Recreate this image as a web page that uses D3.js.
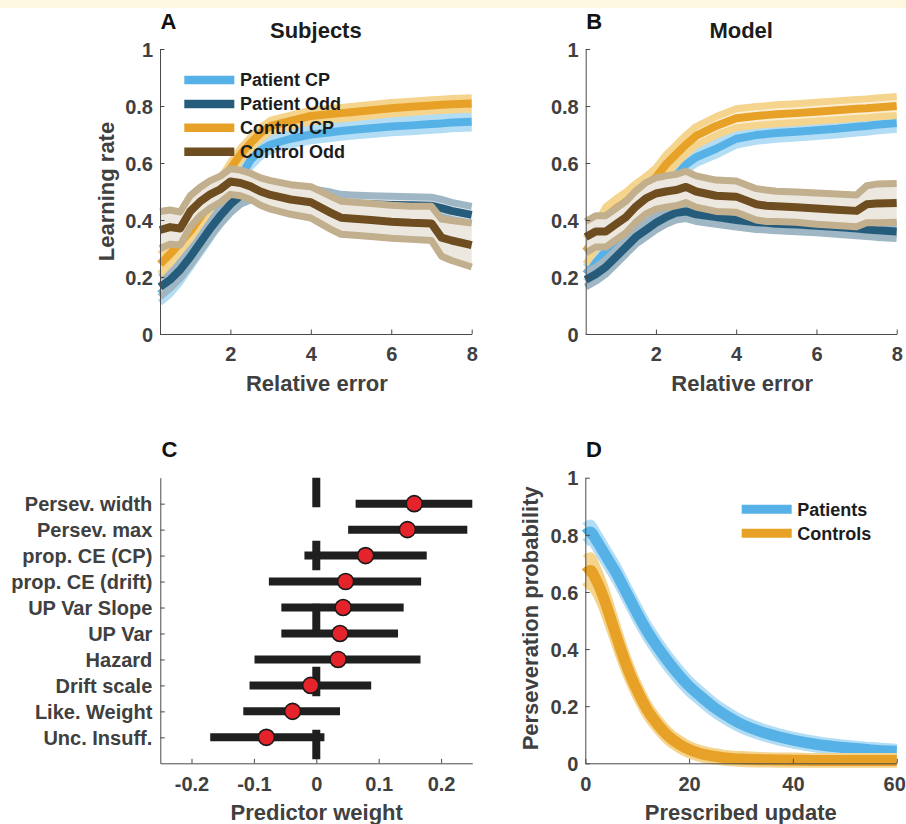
<!DOCTYPE html>
<html><head><meta charset="utf-8">
<script src="https://cdn.jsdelivr.net/npm/d3@7"></script>
<style>
body{margin:0;background:#fff}
svg{display:block}
text{font-family:"Liberation Sans",Arial,Helvetica,sans-serif;font-weight:bold}
</style>
</head><body>
<svg id="c" width="906" height="824"></svg>
<script>
// ---------- DATA ----------
const xRel = [0.25,0.5,0.75,1,1.25,1.5,1.75,2,2.25,2.5,2.75,3,3.5,4,4.5,4.75,5,5.5,6,6.5,7,7.25,7.5,8];
const yTicks01 = [0,0.2,0.4,0.6,0.8,1];
const xTicksRel = [2,4,6,8];

// Panel A: Subjects
const subjPatientCP     = [0.14,0.17,0.21,0.26,0.31,0.36,0.42,0.48,0.55,0.61,0.645,0.665,0.685,0.70,0.708,0.712,0.716,0.722,0.728,0.732,0.737,0.739,0.742,0.745];
const subjPatientCPSem  = [0.03,0.03,0.028,0.027,0.026,0.025,0.025,0.025,0.024,0.023,0.022,0.022,0.022,0.022,0.022,0.022,0.022,0.022,0.022,0.022,0.022,0.022,0.022,0.022];
const subjPatientOdd    = [0.165,0.19,0.225,0.27,0.32,0.37,0.415,0.455,0.485,0.5,0.505,0.5,0.49,0.48,0.468,0.46,0.458,0.455,0.453,0.452,0.45,0.442,0.432,0.418];
const subjPatientOddSem = [0.035,0.03,0.03,0.03,0.03,0.03,0.03,0.03,0.03,0.03,0.03,0.03,0.03,0.03,0.03,0.03,0.03,0.03,0.03,0.03,0.03,0.03,0.03,0.03];
const subjControlCP     = [0.245,0.28,0.32,0.36,0.41,0.46,0.52,0.58,0.63,0.67,0.705,0.73,0.748,0.765,0.772,0.775,0.778,0.785,0.792,0.797,0.802,0.804,0.806,0.809];
const subjControlCPSem  = [0.035,0.033,0.03,0.027,0.025,0.024,0.023,0.022,0.021,0.02,0.02,0.02,0.02,0.02,0.02,0.02,0.02,0.02,0.02,0.02,0.02,0.02,0.02,0.02];
const subjControlOdd    = [0.365,0.375,0.37,0.43,0.465,0.49,0.508,0.535,0.53,0.518,0.5,0.488,0.472,0.462,0.425,0.408,0.405,0.4,0.394,0.39,0.388,0.338,0.328,0.312];
const subjControlOddSem = [0.065,0.06,0.058,0.055,0.05,0.048,0.046,0.045,0.045,0.046,0.048,0.05,0.052,0.055,0.058,0.058,0.058,0.058,0.058,0.058,0.06,0.065,0.07,0.077];

// Panel B: Model
const modelPatientCP     = [0.21,0.25,0.29,0.33,0.37,0.41,0.44,0.47,0.51,0.555,0.595,0.62,0.65,0.685,0.698,0.702,0.705,0.71,0.715,0.72,0.727,0.73,0.734,0.74];
const modelPatientCPSem  = [0.025,0.024,0.023,0.022,0.022,0.022,0.022,0.022,0.022,0.022,0.022,0.022,0.022,0.022,0.022,0.022,0.022,0.022,0.022,0.022,0.022,0.022,0.022,0.022];
const modelPatientOdd    = [0.19,0.21,0.235,0.27,0.305,0.34,0.365,0.39,0.41,0.425,0.43,0.42,0.41,0.40,0.392,0.39,0.387,0.384,0.38,0.375,0.37,0.367,0.364,0.36];
const modelPatientOddSem = [0.025,0.025,0.025,0.025,0.025,0.025,0.025,0.025,0.025,0.025,0.025,0.025,0.025,0.025,0.025,0.025,0.025,0.025,0.025,0.025,0.025,0.025,0.025,0.025];
const modelControlCP     = [0.29,0.34,0.41,0.44,0.465,0.495,0.52,0.55,0.595,0.63,0.665,0.695,0.73,0.757,0.765,0.768,0.771,0.775,0.78,0.785,0.79,0.792,0.795,0.80];
const modelControlCPSem  = [0.045,0.04,0.036,0.034,0.033,0.033,0.033,0.033,0.033,0.033,0.033,0.033,0.033,0.033,0.033,0.033,0.033,0.033,0.033,0.033,0.033,0.033,0.033,0.033];
const modelControlOdd    = [0.34,0.36,0.36,0.385,0.41,0.447,0.476,0.493,0.5,0.505,0.516,0.5,0.485,0.482,0.455,0.45,0.448,0.445,0.44,0.436,0.432,0.455,0.458,0.46];
const modelControlOddSem = [0.055,0.055,0.055,0.055,0.055,0.055,0.055,0.055,0.055,0.055,0.055,0.055,0.055,0.055,0.055,0.055,0.053,0.053,0.055,0.055,0.056,0.065,0.068,0.068];

// Panel C: predictor weights
const predictors = ["Persev. width","Persev. max","prop. CE (CP)","prop. CE (drift)","UP Var Slope","UP Var","Hazard","Drift scale","Like. Weight","Unc. Insuff."];
const weights    = [0.157,0.146,0.079,0.047,0.043,0.038,0.035,-0.009,-0.038,-0.080];
const weightLo   = [0.063,0.051,-0.019,-0.076,-0.056,-0.056,-0.099,-0.107,-0.117,-0.170];
const weightHi   = [0.26,0.242,0.177,0.168,0.140,0.131,0.167,0.088,0.038,0.013];
const xTicksC    = [-0.2,-0.1,0,0.1,0.2];

// Panel D: perseveration probability
const xUpd = [0,1,2,3,4,5,6,7,8,9,10,12,14,16,18,20,22,25,28,30,35,40,45,50,55,60];
const patientsPersev    = [0.80,0.81,0.785,0.755,0.725,0.695,0.665,0.63,0.595,0.56,0.525,0.46,0.405,0.355,0.31,0.27,0.238,0.193,0.158,0.138,0.104,0.081,0.065,0.055,0.047,0.042];
const patientsPersevSem = [0.028,0.028,0.027,0.027,0.026,0.026,0.026,0.026,0.025,0.025,0.025,0.024,0.024,0.023,0.022,0.021,0.02,0.019,0.018,0.017,0.015,0.014,0.013,0.012,0.012,0.011];
const controlsPersev    = [0.665,0.675,0.645,0.605,0.555,0.5,0.445,0.39,0.34,0.295,0.255,0.185,0.135,0.095,0.068,0.048,0.035,0.024,0.017,0.015,0.012,0.011,0.01,0.01,0.01,0.01];
const controlsPersevSem = [0.05,0.048,0.045,0.042,0.04,0.037,0.034,0.031,0.028,0.026,0.024,0.021,0.019,0.017,0.016,0.015,0.014,0.013,0.012,0.012,0.011,0.011,0.01,0.01,0.01,0.01];
const xTicksD = [0,20,40,60];

// ---------- STYLE ----------
const COL = {
  patCP:  {mean:"#56b2e6", edge:"#b3ddf4", fill:"#dbeffa"},
  patOdd: {mean:"#255c7b", edge:"#9fb6c4", fill:"#dfe7ec"},
  conCP:  {mean:"#e8a127", edge:"#f5d48d", fill:"#fbeed3"},
  conOdd: {mean:"#6e4d20", edge:"#c1af8e", fill:"#ede8df"}
};
const AX = "#4a4a4a", TXT = "#404040", DARK = "#1c1c1c";

const svg = d3.select("#c");
svg.append("rect").attr("x",0).attr("y",0).attr("width",906).attr("height",8).attr("fill","#fff8e1");

function styleAxis(g, fs) {
  g.attr("font-family", null).attr("font-size", null);
  g.select(".domain").attr("stroke", AX).attr("stroke-width", 1);
  g.selectAll(".tick line").attr("stroke", AX).attr("stroke-width", 1);
  g.selectAll(".tick text").attr("fill", TXT).style("font-size", fs + "px");
}
function txt(x, y, s, opt = {}) {
  const t = svg.append("text").attr("x", x).attr("y", y).text(s)
    .style("font-size", (opt.size || 22) + "px")
    .attr("fill", opt.fill || TXT)
    .attr("text-anchor", opt.anchor || "middle");
  if (opt.rot) t.attr("transform", `rotate(${opt.rot},${x},${y})`);
  return t;
}

// ---------- Panels A & B ----------
function bandPanel(x0, x1, series, title, letter, withLegend) {
  const x = d3.scaleLinear().domain([0.25, 8]).range([x0, x1]);
  const y = d3.scaleLinear().domain([0, 1]).range([334, 49]);
  const g = svg.append("g");
  series.forEach(s => {
    const pts = xRel.map((v, i) => ({x: v, m: s.mean[i], e: s.sem[i]}));
    g.append("path").datum(pts)
      .attr("d", d3.area().x(d => x(d.x)).y0(d => y(d.m - d.e)).y1(d => y(d.m + d.e)))
      .attr("fill", s.c.fill);
    [-1, 1].forEach(sg => {
      g.append("path").datum(pts)
        .attr("d", d3.line().x(d => x(d.x)).y(d => y(d.m + sg * d.e)))
        .attr("fill", "none").attr("stroke", s.c.edge).attr("stroke-width", 7)
        .attr("stroke-linejoin", "round");
    });
    g.append("path").datum(pts)
      .attr("d", d3.line().x(d => x(d.x)).y(d => y(d.m)))
      .attr("fill", "none").attr("stroke", s.c.mean).attr("stroke-width", 8)
      .attr("stroke-linejoin", "round");
  });
  const gx = svg.append("g").attr("transform", "translate(0,334)")
    .call(d3.axisBottom(x).tickValues(xTicksRel).tickFormat(d => String(d))
      .tickSizeInner(-4.5).tickSizeOuter(0).tickPadding(13));
  styleAxis(gx, 20);
  const gy = svg.append("g").attr("transform", `translate(${x0},0)`)
    .call(d3.axisLeft(y).tickValues(yTicks01).tickFormat(d => String(d))
      .tickSizeInner(-4.5).tickSizeOuter(0).tickPadding(7));
  styleAxis(gy, 20);
  gy.selectAll(".tick text").attr("dy", "0.36em");
  txt((x0 + x1) / 2, 38, title, {fill: DARK});
  txt(x0 + 0.5, 28.5, letter, {anchor: "start", fill: "#111", size: 22});
  txt((x0 + x1) / 2 + 1, 391, "Relative error");
  if (withLegend) {
    const names = ["Patient CP", "Patient Odd", "Control CP", "Control Odd"];
    series.forEach((s, i) => {
      const yy = 80 + i * 23.9;
      svg.append("line").attr("x1", 184.3).attr("x2", 234.3).attr("y1", yy).attr("y2", yy)
        .attr("stroke", s.c.mean).attr("stroke-width", 8.5);
      txt(240, yy, names[i], {anchor: "start", fill: DARK, size: 18}).attr("dy", "0.36em");
    });
  }
}

bandPanel(160, 471.7, [
  {mean: subjPatientCP, sem: subjPatientCPSem, c: COL.patCP},
  {mean: subjPatientOdd, sem: subjPatientOddSem, c: COL.patOdd},
  {mean: subjControlCP, sem: subjControlCPSem, c: COL.conCP},
  {mean: subjControlOdd, sem: subjControlOddSem, c: COL.conOdd}
], "Subjects", "A", true);
txt(114, 191.5, "Learning rate", {rot: -90});

bandPanel(585.7, 896.7, [
  {mean: modelPatientCP, sem: modelPatientCPSem, c: COL.patCP},
  {mean: modelPatientOdd, sem: modelPatientOddSem, c: COL.patOdd},
  {mean: modelControlCP, sem: modelControlCPSem, c: COL.conCP},
  {mean: modelControlOdd, sem: modelControlOddSem, c: COL.conOdd}
], "Model", "B", false);

// ---------- Panel C ----------
(function() {
  const x = d3.scaleLinear().domain([-0.25, 0.25]).range([160.3, 472.3]);
  const y = d3.scaleLinear().domain([0, 11]).range([477.7, 763.3]);
  svg.append("defs").append("clipPath").attr("id", "clipC")
    .append("rect").attr("x", 160.3).attr("y", 470).attr("width", 312).attr("height", 300);
  const g = svg.append("g").attr("clip-path", "url(#clipC)");
  g.append("line").attr("x1", x(0)).attr("x2", x(0)).attr("y1", y(0)).attr("y2", y(11))
    .attr("stroke", "#1f1f1f").attr("stroke-width", 8).attr("stroke-dasharray", "29.5 33.5");
  predictors.forEach((p, i) => {
    g.append("line").attr("x1", x(weightLo[i])).attr("x2", x(weightHi[i]))
      .attr("y1", y(i + 1)).attr("y2", y(i + 1))
      .attr("stroke", "#1f1f1f").attr("stroke-width", 8);
  });
  predictors.forEach((p, i) => {
    g.append("circle").attr("cx", x(weights[i])).attr("cy", y(i + 1)).attr("r", 8)
      .attr("fill", "#e5232a").attr("stroke", "#1a1a1a").attr("stroke-width", 1.6);
  });
  const gx = svg.append("g").attr("transform", "translate(0,763.3)")
    .call(d3.axisBottom(x).tickValues(xTicksC).tickFormat(d => String(d))
      .tickSizeInner(-4.5).tickSizeOuter(0).tickPadding(14));
  styleAxis(gx, 20);
  const gy = svg.append("g").attr("transform", "translate(160.3,0)")
    .call(d3.axisLeft(y).tickValues(d3.range(1, 11)).tickFormat(i => predictors[i - 1])
      .tickSizeInner(-4.5).tickSizeOuter(0).tickPadding(8));
  styleAxis(gy, 20);
  gy.selectAll(".tick text").attr("dy", "0.36em");
  txt(161.5, 456.7, "C", {anchor: "start", fill: "#111", size: 22});
  txt(316.7, 820, "Predictor weight");
})();

// ---------- Panel D ----------
(function() {
  const x = d3.scaleLinear().domain([0, 60]).range([585.3, 896.7]);
  const y = d3.scaleLinear().domain([0, 1]).range([763.3, 477.7]);
  const g = svg.append("g");
  const sets = [
    {mean: patientsPersev, sem: patientsPersevSem, c: COL.patCP, name: "Patients"},
    {mean: controlsPersev, sem: controlsPersevSem, c: COL.conCP, name: "Controls"}
  ];
  sets.forEach(s => {
    const pts = xUpd.map((v, i) => ({x: v, m: s.mean[i], e: s.sem[i]}));
    g.append("path").datum(pts)
      .attr("d", d3.area().curve(d3.curveMonotoneX).x(d => x(d.x)).y0(d => y(d.m - d.e)).y1(d => y(d.m + d.e)))
      .attr("fill", s.c.edge);
    [-1, 1].forEach(sg => {
      g.append("path").datum(pts)
        .attr("d", d3.line().curve(d3.curveMonotoneX).x(d => x(d.x)).y(d => y(d.m + sg * d.e)))
        .attr("fill", "none").attr("stroke", s.c.edge).attr("stroke-width", 9)
        .attr("stroke-linejoin", "round");
    });
    g.append("path").datum(pts)
      .attr("d", d3.line().curve(d3.curveMonotoneX).x(d => x(d.x)).y(d => y(d.m)))
      .attr("fill", "none").attr("stroke", s.c.mean).attr("stroke-width", 11)
      .attr("stroke-linejoin", "round");
  });
  const gx = svg.append("g").attr("transform", "translate(0,763.3)")
    .call(d3.axisBottom(x).tickValues(xTicksD).tickFormat(d => String(d))
      .tickSizeInner(-4.5).tickSizeOuter(0).tickPadding(14));
  styleAxis(gx, 20);
  gx.selectAll(".tick text").filter(d => d === 60).attr("dx", "-2.5");
  const gy = svg.append("g").attr("transform", "translate(585.3,0)")
    .call(d3.axisLeft(y).tickValues(yTicks01).tickFormat(d => String(d))
      .tickSizeInner(-4.5).tickSizeOuter(0).tickPadding(7));
  styleAxis(gy, 20);
  gy.selectAll(".tick text").attr("dy", "0.36em");
  sets.forEach((s, i) => {
    const yy = 509.3 + i * 24;
    svg.append("line").attr("x1", 741.7).attr("x2", 791.7).attr("y1", yy).attr("y2", yy)
      .attr("stroke", s.c.mean).attr("stroke-width", 9);
    txt(797.3, yy, s.name, {anchor: "start", fill: DARK, size: 18}).attr("dy", "0.36em");
  });
  txt(586, 456.7, "D", {anchor: "start", fill: "#111", size: 22});
  txt(740.8, 820, "Prescribed update");
  txt(538.5, 618.3, "Perseveration probability", {rot: -90});
})();
</script>
</body></html>
